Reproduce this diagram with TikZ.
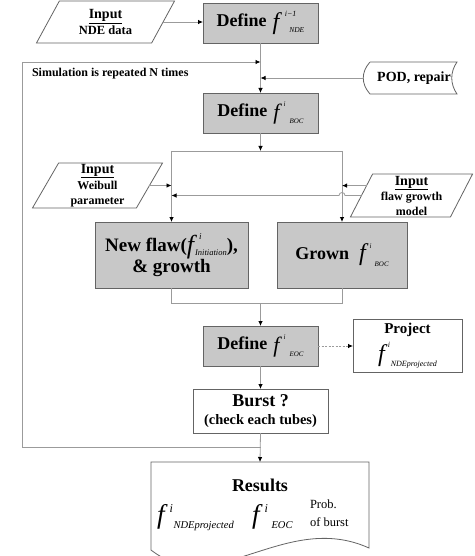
\documentclass[tikz,border=0pt]{standalone}
\usepackage{fontspec}
\setmainfont{Liberation Serif}
\usetikzlibrary{shapes.geometric,arrows.meta,calc}
\definecolor{boxgray}{RGB}{200,200,200}
\definecolor{edgecol}{RGB}{100,100,100}
\definecolor{linecol}{RGB}{155,155,155}
% #1 f size, #2 f lower, #3 sup size, #4 sup, #5 sup raise, #6 sub size, #7 sub, #8 sub lower, #9 sub kern
\newcommand{\fvar}[9]{\mbox{\raisebox{-#2}{\fontsize{#1}{#1}\selectfont\mdseries\itshape f}\rlap{\raisebox{#5}{\fontsize{#3}{#3}\selectfont\mdseries\itshape #4}}\kern#9\raisebox{-#8}{\fontsize{#6}{#6}\selectfont\mdseries\itshape #7}}}
\tikzset{
  every node/.style={inner sep=0pt, outer sep=0pt},
  procbox/.style={draw=edgecol, line width=0.9pt, fill=boxgray, align=center, font=\fontsize{18}{21}\selectfont\bfseries},
  plainbox/.style={draw=edgecol, line width=0.9pt, fill=white, align=center},
  iobox/.style={trapezium, draw=edgecol, line width=0.8pt, trapezium stretches=true, align=center},
  conn/.style={draw=linecol, line width=0.8pt},
  arrowc/.style={conn, -{Latex[length=5pt,width=4.5pt,color=black]}},
  outline/.style={draw=edgecol, line width=0.8pt},
}
\begin{document}
\begin{tikzpicture}[x=1pt,y=-1pt]
\useasboundingbox (0,0) rectangle (474,556);
\fill[white] (0,0) rectangle (474,556);

% input NDE data
\node[iobox, trapezium left angle=62, trapezium right angle=118, minimum width=139pt, minimum height=42pt,
  font=\fontsize{12.5}{14.5}\selectfont\bfseries] (ndein) at (105.5,22)
  {{\fontsize{14}{14.5}\selectfont\underline{Input}}\\[1pt]NDE data};

% define f NDE
\node[procbox, minimum width=115pt, minimum height=40pt] (defnde) at (260.5,23)
  {Define\hspace{6pt}\fvar{24}{3pt}{8}{\kern5.5pt i−1}{10pt}{7.5}{NDE}{6pt}{10pt}};

% simulation text
\node[anchor=west, font=\fontsize{12}{14}\selectfont\bfseries] (simtxt) at (32,74) {Simulation is repeated N times};

% POD, repair
\node[minimum width=94pt, minimum height=32pt, font=\fontsize{14}{16}\selectfont\bfseries] (pod) at (410,78) {\hspace{8pt}POD, repair};
\draw[outline] ($(pod.north west)+(7,0)$) -- (pod.north east)
  .. controls ($(pod.north east)+(-7,10)$) and ($(pod.south east)+(-7,-10)$) .. (pod.south east)
  -- ($(pod.south west)+(7,0)$)
  .. controls ($(pod.south west)+(-2,-10)$) and ($(pod.north west)+(-2,10)$) .. ($(pod.north west)+(7,0)$);

% define f BOC
\node[procbox, minimum width=115pt, minimum height=40pt] (defboc) at (260.5,113)
  {Define\hspace{6pt}\fvar{22}{3pt}{7}{\kern4pt i}{10pt}{7}{BOC}{7pt}{10pt}};

% Weibull input
\node[iobox, trapezium left angle=67, trapezium right angle=113, minimum width=131pt, minimum height=45pt,
  font=\fontsize{12}{15}\selectfont\bfseries] (weib) at (97.5,185.5)
  {{\fontsize{14}{15}\selectfont\underline{Input}}\\[1pt]Weibull\\parameter};

% flaw growth input
\node[iobox, trapezium left angle=66, trapezium right angle=114, minimum width=123pt, minimum height=43pt,
  font=\fontsize{12}{14.5}\selectfont\bfseries] (flaw) at (411.5,195.5)
  {{\fontsize{14}{14.5}\selectfont\underline{Input}}\\[1pt]flaw growth\\model};

% new flaw & grown
\node[procbox, minimum width=153pt, minimum height=66pt, font=\fontsize{19}{20}\selectfont\bfseries] (newflaw) at (171.5,255)
  {New flaw(\fvar{26}{2pt}{9}{\kern5pt i}{12pt}{8.5}{Initiation}{4pt}{1pt}),\\\& growth};
\node[procbox, minimum width=130pt, minimum height=66pt] (grown) at (342,255)
  {Grown\hspace{10pt}\fvar{24}{1.5pt}{7}{\kern4pt i}{11pt}{7}{BOC}{7pt}{9pt}};

% define f EOC
\node[procbox, minimum width=115pt, minimum height=40pt] (defeoc) at (260.5,346)
  {Define\hspace{6pt}\fvar{22}{3pt}{7}{\kern4pt i}{10pt}{7}{EOC}{7pt}{10pt}};

% project
\node[plainbox, minimum width=109pt, minimum height=53pt, font=\fontsize{15}{18}\selectfont\bfseries] (project) at (407.5,345.5)
  {Project\\[5pt]\fvar{24}{0pt}{8}{\kern3pt i}{14pt}{8}{NDEprojected}{5pt}{6pt}};

% burst
\node[plainbox, minimum width=135pt, minimum height=44pt, font=\fontsize{18}{21}\selectfont\bfseries] (burst) at (260.5,411)
  {Burst ?\\[-3pt]{\fontsize{14.4}{16}\selectfont (check each tubes)}};

% results document
\node[minimum width=218pt, minimum height=88pt, anchor=north] (results) at (260,462) {};
\draw[outline] (results.north west) -- (results.north east) -- ($(results.north east)+(0,86)$)
  .. controls ($(results.north east)+(-84,48)$) and ($(results.north west)+(64,138)$) .. ($(results.north west)+(0,88)$) -- cycle;
\node[font=\fontsize{18}{21}\selectfont\bfseries] (restitle) at (260,485.5) {Results};
\node[anchor=base west] (resf1) at (157,523) {\fvar{27}{0pt}{12}{\kern5pt i}{11pt}{10.5}{NDEprojected}{5pt}{9pt}};
\node[anchor=base west] (resf2) at (252,523) {\fvar{27}{0pt}{12}{\kern5pt i}{11pt}{10.5}{EOC}{5pt}{12pt}};
\node[anchor=north west, align=left, font=\fontsize{12.5}{18}\selectfont] (prob) at (310,499.5) {Prob.\\of burst};

% coordinates
\coordinate (lt) at (defnde.south |- 0,62);
\coordinate (ltl) at (22.7,62);
\coordinate (lb) at (burst.south |- 0,447);
\coordinate (lbl) at (22.7,447);
\coordinate (split) at (defboc.south |- 0,151);
\coordinate (splitl) at (newflaw.north |- 0,151);
\coordinate (splitr) at (grown.north |- 0,151);
\coordinate (merge) at (defeoc.north |- 0,303);
\coordinate (mergel) at (newflaw.south |- 0,303);
\coordinate (merger) at (grown.south |- 0,303);
\coordinate (flawa) at ($(flaw.top left corner)!0.27!(flaw.bottom left corner)$);
\coordinate (hop) at (grown.north |- flaw.west);

% connectors
\draw[arrowc] (ndein.east) -- (ndein.east -| defnde.west);
\draw[arrowc] (defnde.south) -- (defboc.north);
\draw[arrowc] (lb) -- (lbl) -- (ltl) -- (lt);
\draw[arrowc] (pod.west) -- (pod.west -| defnde.south);
\draw[arrowc] (defboc.south) -- (split);
\draw[conn] (splitl) -- (splitr);
\draw[arrowc] (splitl) -- (newflaw.north);
\draw[arrowc] (splitr) -- (grown.north);
\draw[arrowc] (weib.east) -- (weib.east -| newflaw.north);
\draw[arrowc] (flawa) -- (flawa -| grown.north);
\draw[arrowc] (flaw.west) -- ($(hop)+(3,0)$) arc[start angle=0, end angle=180, radius=3pt] -- (flaw.west -| newflaw.north);
\draw[conn] (newflaw.south) -- (mergel) -- (merger) -- (grown.south);
\draw[arrowc] (merge) -- (defeoc.north);
\draw[arrowc, dashed, dash pattern=on 2pt off 1.5pt] (defeoc.east) -- (defeoc.east -| project.west);
\draw[arrowc] (defeoc.south) -- (burst.north);
\draw[arrowc] (burst.south) -- (results.north);
\end{tikzpicture}
\end{document}
